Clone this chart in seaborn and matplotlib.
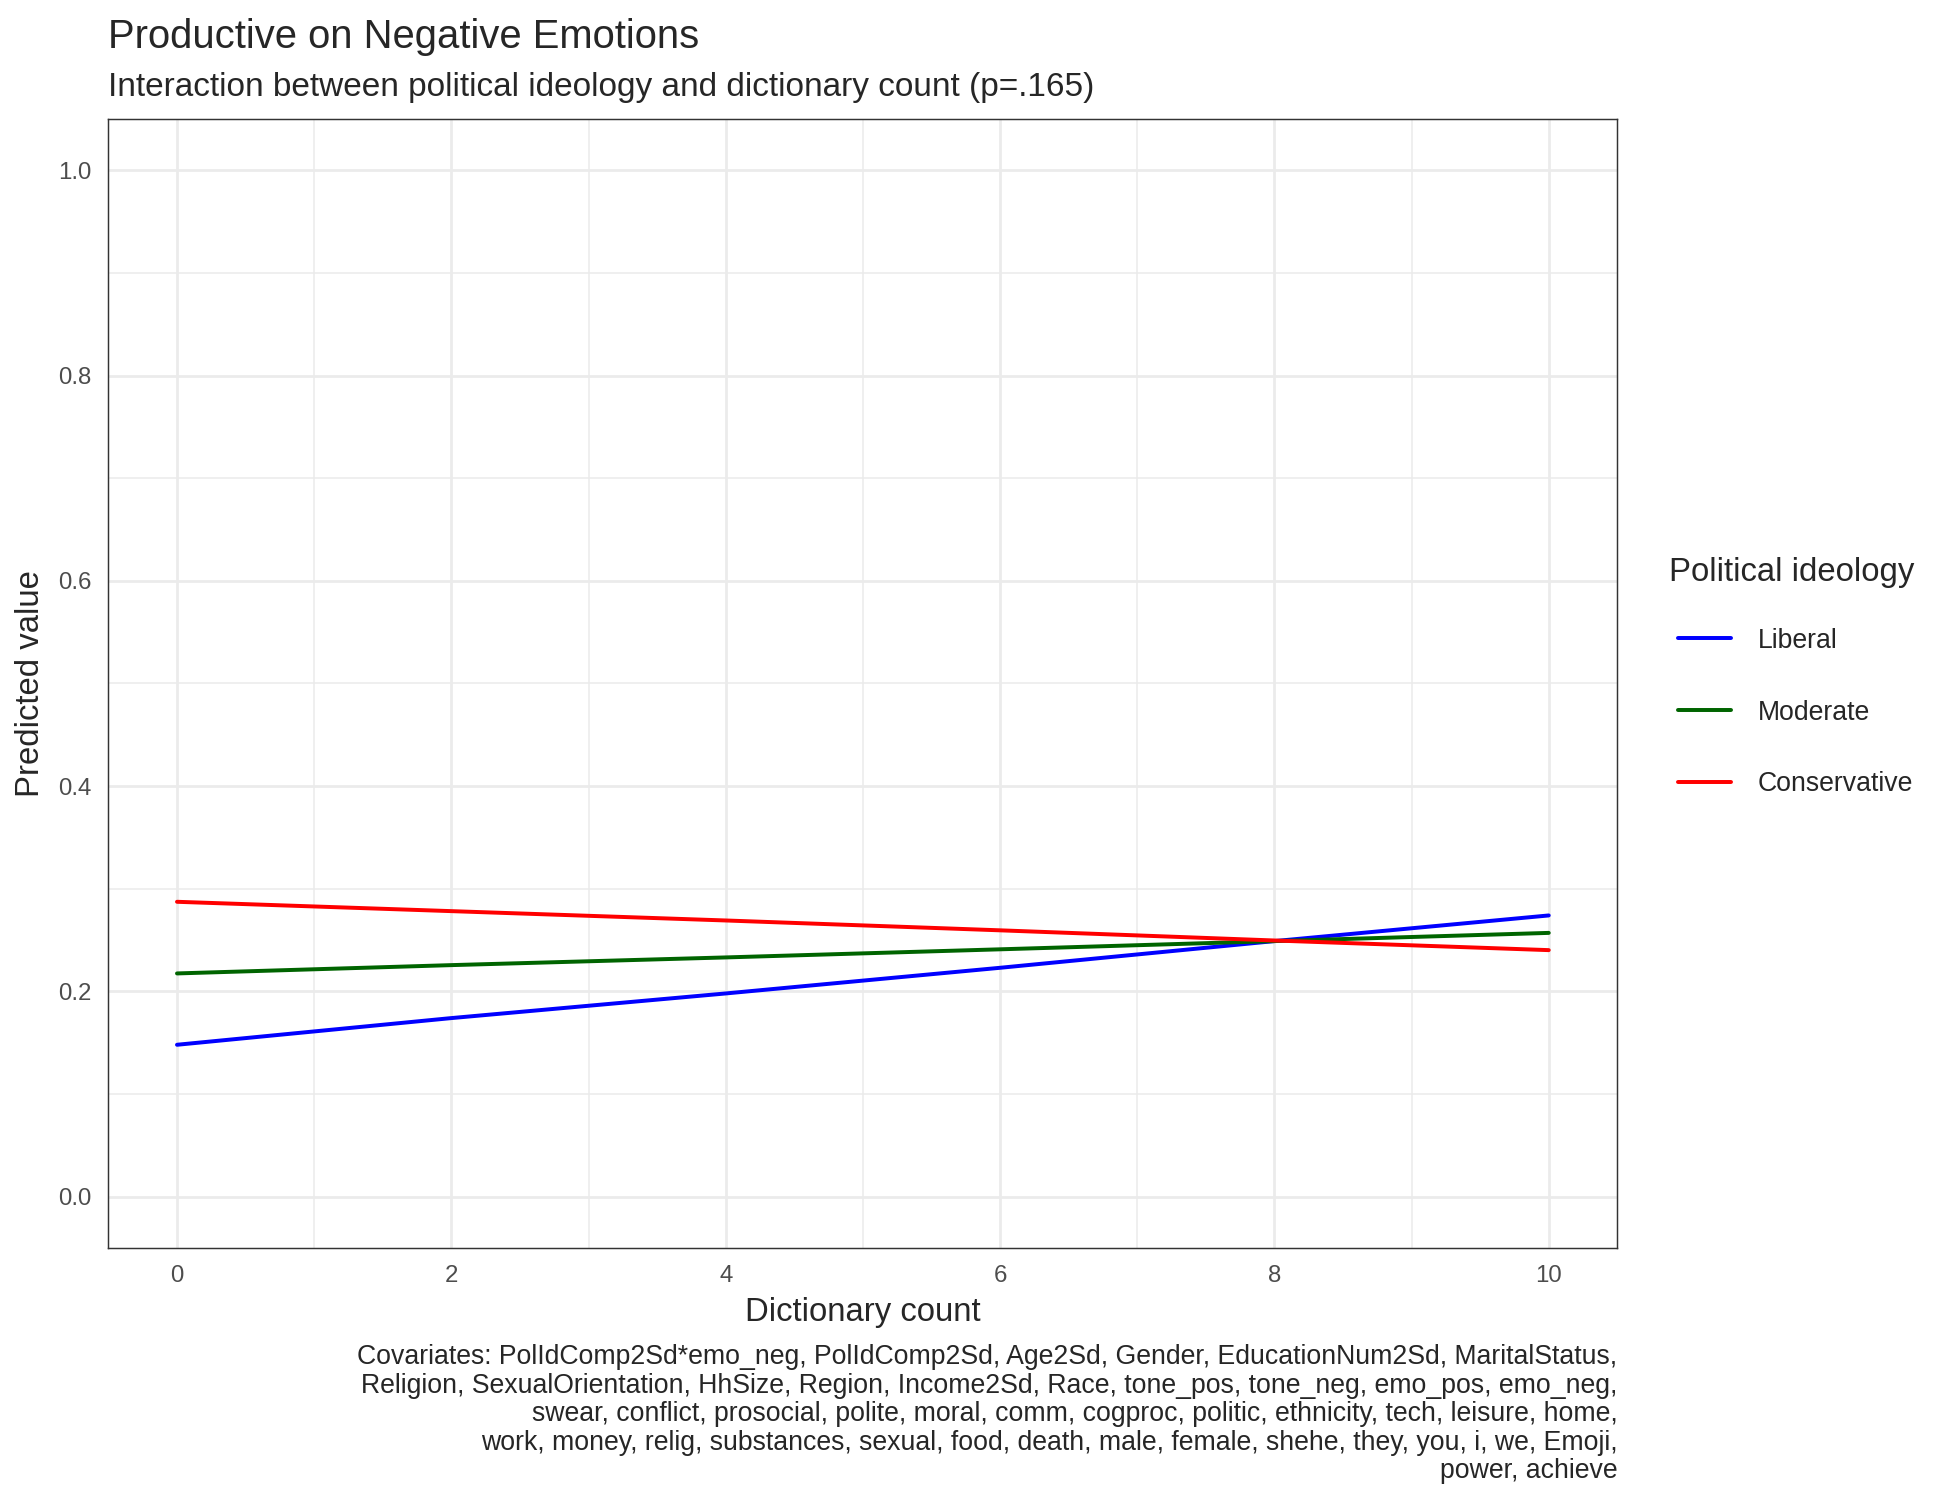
import numpy as np
import pandas as pd
import matplotlib
matplotlib.use("Agg")
import matplotlib.pyplot as plt
from matplotlib.lines import Line2D
import seaborn as sns

# values
dict_count = [0, 2, 4, 6, 8, 10]
liberal = [0.148, 0.174, 0.198, 0.223, 0.249, 0.274]
moderate = [0.2175, 0.2256, 0.2331, 0.241, 0.249, 0.257]
conservative = [0.2873, 0.2782, 0.2691, 0.2595, 0.2496, 0.2402]
groups = ['Liberal', 'Moderate', 'Conservative']
colors = ['#0000FF', '#006400', '#FF0000']

caption = ("Covariates: PolIdComp2Sd*emo_neg, PolIdComp2Sd, Age2Sd, Gender, EducationNum2Sd, MaritalStatus,\n"
           "Religion, SexualOrientation, HhSize, Region, Income2Sd, Race, tone_pos, tone_neg, emo_pos, emo_neg,\n"
           "swear, conflict, prosocial, polite, moral, comm, cogproc, politic, ethnicity, tech, leisure, home,\n"
           "work, money, relig, substances, sexual, food, death, male, female, shehe, they, you, i, we, Emoji,\n"
           "power, achieve")

df = pd.DataFrame({
    'x': dict_count * 3,
    'y': liberal + moderate + conservative,
    'group': np.repeat(groups, len(dict_count)),
})

sns.set_style("white")
plt.rcParams['font.family'] = ['Liberation Sans', 'DejaVu Sans']

fig = plt.figure(figsize=(13, 10), dpi=150)
ax = fig.add_axes([0.0556, 0.168, 0.8294 - 0.0556, 0.9207 - 0.168])

sns.lineplot(data=df, x='x', y='y', hue='group', hue_order=groups,
             palette=colors, linewidth=1.9, ax=ax, legend=False, zorder=3)

ax.set_xlim(-0.5, 10.5)
ax.set_ylim(-0.05, 1.05)
ax.set_xticks([0, 2, 4, 6, 8, 10])
ax.set_yticks([0.0, 0.2, 0.4, 0.6, 0.8, 1.0])
ax.set_yticklabels(['0.0', '0.2', '0.4', '0.6', '0.8', '1.0'])
ax.set_xticks([1, 3, 5, 7, 9], minor=True)
ax.set_yticks([0.1, 0.3, 0.5, 0.7, 0.9], minor=True)
ax.grid(True, which='major', color='#EBEBEB', linewidth=1.3, zorder=0)
ax.grid(True, which='minor', color='#EBEBEB', linewidth=0.75, zorder=0)
ax.set_axisbelow(True)
for s in ax.spines.values():
    s.set_color('#333333')
    s.set_linewidth(0.7)
ax.tick_params(which='major', length=4, width=1.1, color='#333333',
               labelcolor='#4D4D4D', labelsize=11.5, pad=4)
ax.tick_params(which='minor', length=0)

ax.set_xlabel('Dictionary count', fontsize=15.8, labelpad=5)
ax.set_ylabel('Predicted value', fontsize=15.8, labelpad=6)

fig.text(0.0556, 0.968, 'Productive on Negative Emotions', fontsize=19.2, va='baseline', ha='left')
fig.text(0.0556, 0.936, 'Interaction between political ideology and dictionary count (p=.165)',
         fontsize=16, va='baseline', ha='left')
fig.text(0.8294, 0.1037, caption, fontsize=12.8, ha='right', va='top', linespacing=1.12)

# legend: title as its own text so the keys sit indented under it
fig.text(0.8557, 0.6183, 'Political ideology', fontsize=15.8, ha='left', va='center')
handles = [Line2D([0], [0], color=c, lw=1.9) for c in colors]
leg = fig.legend(handles, groups, loc='center left',
                 bbox_to_anchor=(0.8549, 0.525), frameon=False, fontsize=12.8,
                 handlelength=2.0, handletextpad=1.0,
                 labelspacing=1.72, borderaxespad=0)

fig.savefig('out.png', dpi=150)
